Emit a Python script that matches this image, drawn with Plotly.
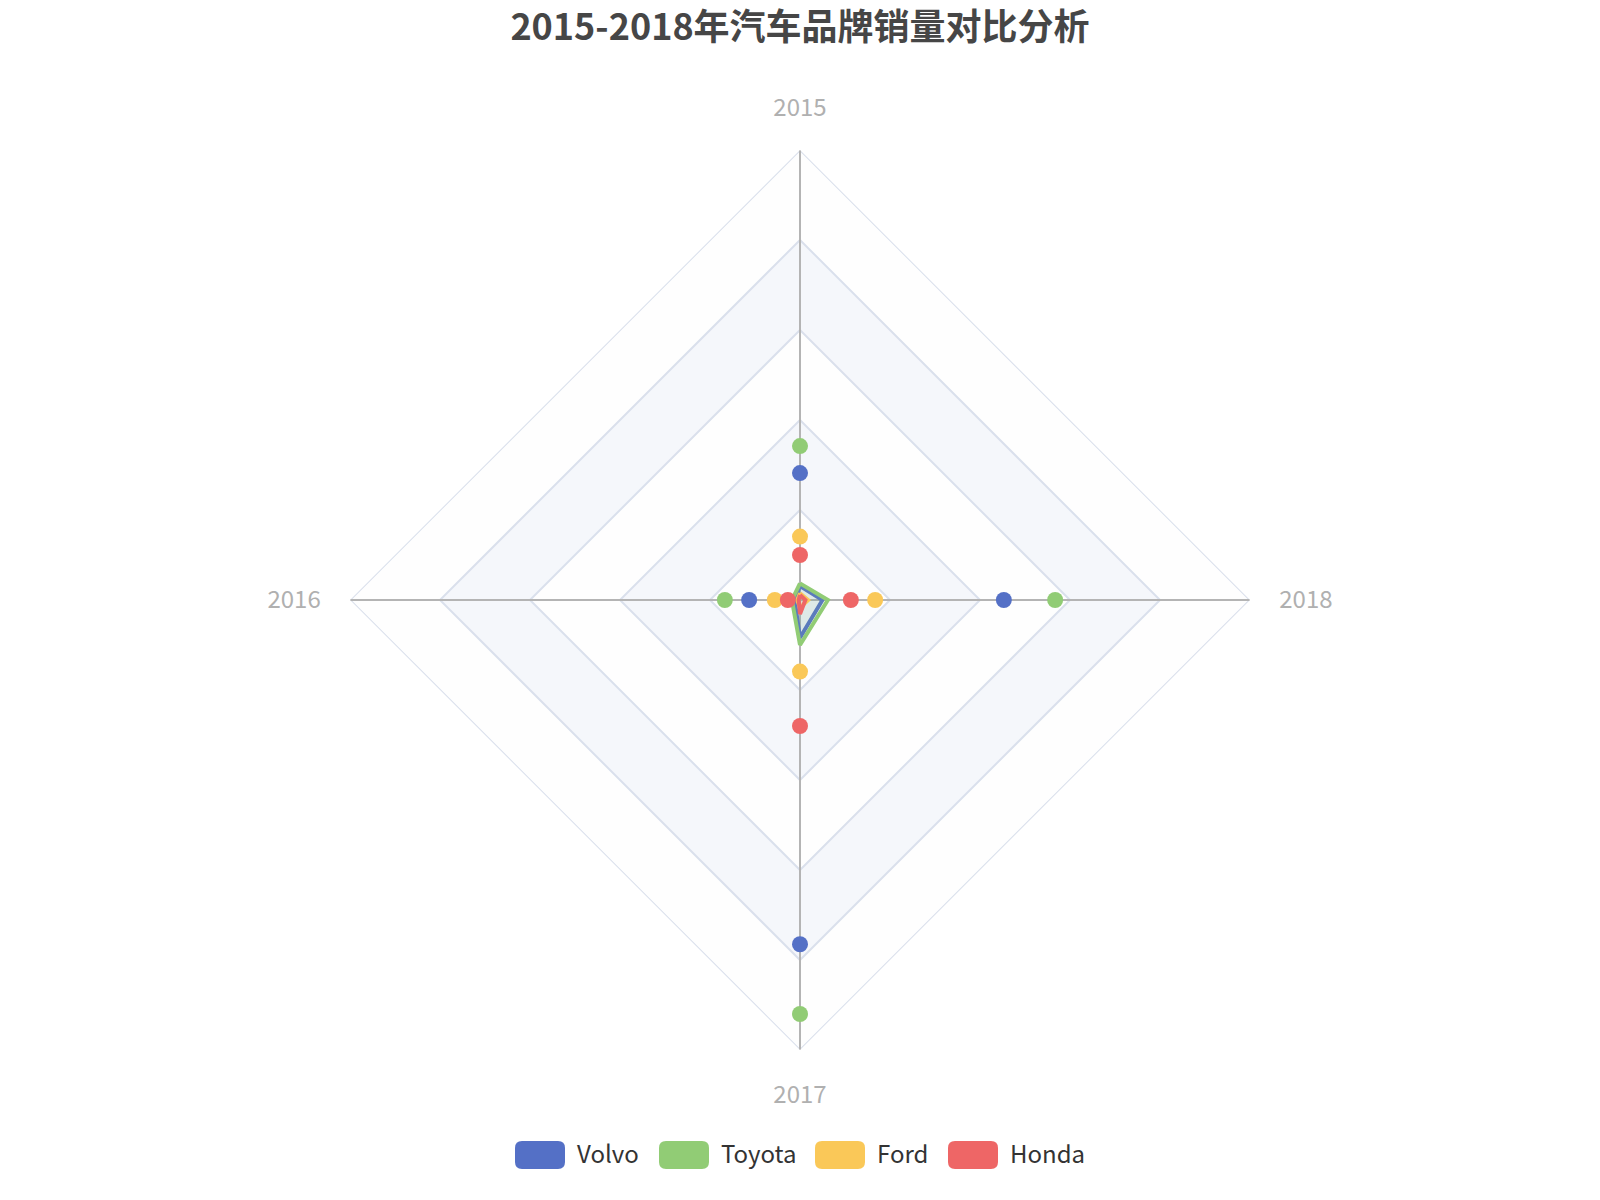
import plotly.graph_objects as go

# ---------------- data ----------------
years = ["2015", "2016", "2017", "2018"]
brands = ["Volvo", "Toyota", "Ford", "Honda"]
brand_colors = ["#5470c6", "#91cc75", "#fac858", "#ee6666"]
brand_fills = ["rgba(84,112,198,0.12)", "rgba(145,204,117,0.12)",
               "rgba(250,200,88,0.12)", "rgba(238,102,102,0.12)"]

# symbol (dot) values per year
volvo_points = [28.2, 11.3, 76.5, 45.3]
toyota_points = [34.2, 16.7, 92.0, 56.7]
ford_points = [14.1, 5.6, 15.9, 16.7]
honda_points = [10.0, 2.7, 28.0, 11.3]

# polygon outline values per year (as drawn)
volvo_outline = [3.1, 1.2, 8.4, 5.0]
toyota_outline = [3.7, 1.8, 10.0, 6.2]
ford_outline = [1.5, 0.6, 1.7, 1.8]
honda_outline = [1.1, 0.3, 3.1, 1.2]

radar_max = 100
split_levels = [100, 80, 60, 40, 20]

points = [volvo_points, toyota_points, ford_points, honda_points]
outlines = [volvo_outline, toyota_outline, ford_outline, honda_outline]

# ---------------- layout constants ----------------
W, H = 1600, 1200
FONT = "Noto Sans CJK SC"
band_light = "#fefefe"
band_dark = "#f5f7fb"
split_line = "#dae0ec"
spoke_color = "#b4b4b4"

fig = go.Figure()

closed_theta = years + [years[0]]

# split areas + split lines
for i, lvl in enumerate(split_levels):
    fig.add_trace(go.Scatterpolar(
        r=[lvl] * 5, theta=closed_theta, mode="lines", fill="toself",
        fillcolor=band_light if i % 2 == 0 else band_dark,
        line=dict(color=split_line, width=2),
        hoverinfo="skip", showlegend=False))

# spokes
spoke_r, spoke_t = [], []
for y in years:
    spoke_r += [0, radar_max, None]
    spoke_t += [y, y, None]
fig.add_trace(go.Scatterpolar(
    r=spoke_r, theta=spoke_t, mode="lines", connectgaps=False,
    line=dict(color=spoke_color, width=2),
    hoverinfo="skip", showlegend=False))

# polygons
for name, vals, col, fc in zip(brands, outlines, brand_colors, brand_fills):
    fig.add_trace(go.Scatterpolar(
        r=vals + [vals[0]], theta=closed_theta, mode="lines", fill="toself",
        fillcolor=fc, line=dict(color=col, width=4),
        name=name, hoverinfo="skip", showlegend=False))

# dots
for name, vals, col in zip(brands, points, brand_colors):
    fig.add_trace(go.Scatterpolar(
        r=vals, theta=years, mode="markers",
        marker=dict(color=col, size=16, line=dict(width=0)),
        name=name, showlegend=False))

# custom legend (rounded rect icons)
legend_left_px = [515, 659, 815, 948]
icon_w, icon_h, icon_r = 50, 28, 7
legend_cy = 1155
legend_text_cy = 1152


def px(x):
    return x / W


def py(y):
    return 1 - y / H


shapes = []
annotations = []
for name, col, x0 in zip(brands, brand_colors, legend_left_px):
    x1 = x0 + icon_w
    yt = legend_cy - icon_h / 2
    yb = legend_cy + icon_h / 2
    r = icon_r
    path = (
        f"M {px(x0 + r)},{py(yt)} L {px(x1 - r)},{py(yt)} "
        f"Q {px(x1)},{py(yt)} {px(x1)},{py(yt + r)} "
        f"L {px(x1)},{py(yb - r)} Q {px(x1)},{py(yb)} {px(x1 - r)},{py(yb)} "
        f"L {px(x0 + r)},{py(yb)} Q {px(x0)},{py(yb)} {px(x0)},{py(yb - r)} "
        f"L {px(x0)},{py(yt + r)} Q {px(x0)},{py(yt)} {px(x0 + r)},{py(yt)} Z"
    )
    shapes.append(dict(type="path", xref="paper", yref="paper", path=path,
                       fillcolor=col, line=dict(width=0)))
    annotations.append(dict(x=px(x1 + 10), y=py(legend_text_cy), xref="paper", yref="paper",
                            text=name, showarrow=False, xanchor="left", yanchor="middle",
                            font=dict(family=FONT, size=24, color="#333333")))

fig.update_layout(
    width=W, height=H,
    margin=dict(l=0, r=0, t=0, b=0),
    paper_bgcolor="white",
    showlegend=False,
    title=dict(text="2015-2018年汽车品牌销量对比分析", x=0.5, xanchor="center",
               y=1 - 27 / H, yanchor="middle", yref="container",
               font=dict(family=FONT, size=36, color="#464646", weight="bold")),
    polar=dict(
        domain=dict(x=[350 / W, 1250 / W], y=[1 - 1050 / H, 1 - 150 / H]),
        gridshape="linear",
        bgcolor="rgba(0,0,0,0)",
        radialaxis=dict(visible=False, range=[0, radar_max]),
        angularaxis=dict(type="category", categoryorder="array", categoryarray=years,
                         rotation=90, direction="counterclockwise",
                         showgrid=False, showline=False,
                         ticks="outside", ticklen=24, tickcolor="rgba(0,0,0,0)",
                         tickfont=dict(family=FONT, size=24, color="#b0b0b0")),
    ),
    shapes=shapes,
    annotations=annotations,
    font=dict(family=FONT),
)

fig.write_html("out.html", config={"displayModeBar": False},
               post_script="document.body.style.margin='0';")
